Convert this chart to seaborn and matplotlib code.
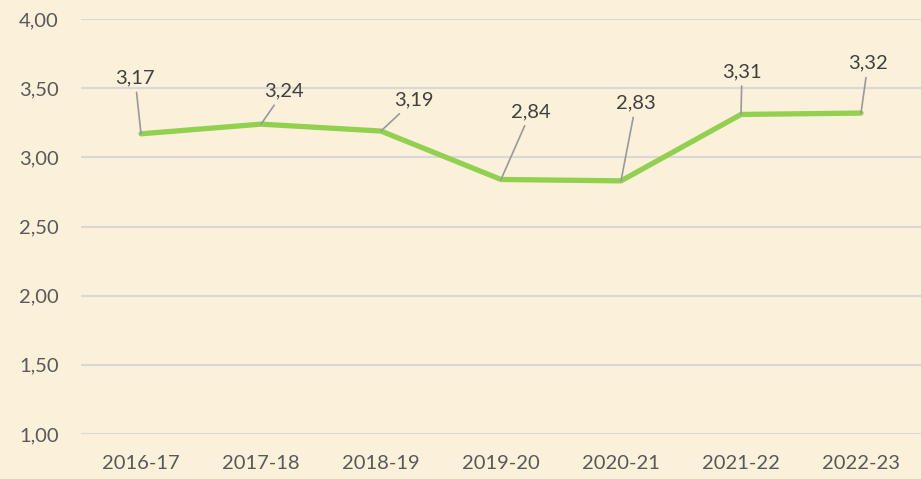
import pandas as pd
import seaborn as sns
import matplotlib.pyplot as plt

# --- data ---
seasons = ['2016-17', '2017-18', '2018-19', '2019-20', '2020-21', '2021-22', '2022-23']
values = [3.17, 3.24, 3.19, 2.84, 2.83, 3.31, 3.32]
y_ticks = [1.0, 1.5, 2.0, 2.5, 3.0, 3.5, 4.0]

# label offsets in pixels (x, y) from each point
label_offsets = [(-6, 56), (23, 33), (33, 31), (30, 68), (15, 78), (1, 43), (7, 50)]

sns.set_style('white')
plt.rcParams['font.family'] = ['Lato', 'DejaVu Sans']

bg = '#FBF1DA'
df = pd.DataFrame({'Season': seasons, 'Value': values})

fig = plt.figure(figsize=(9.21, 4.79), dpi=100)
fig.patch.set_facecolor(bg)
ax = fig.add_axes([81 / 921, 45 / 479, 840 / 921, 415 / 479])
ax.set_facecolor(bg)

sns.lineplot(data=df, x='Season', y='Value', color='#92D050', linewidth=3.8,
             ax=ax, zorder=3)

ax.set_xlim(-0.5, 6.5)
ax.set_ylim(1.0, 4.0)
ax.set_yticks(y_ticks)
ax.set_yticklabels([f'{v:.2f}'.replace('.', ',') for v in y_ticks])
ax.yaxis.grid(True, color='#D8D8D8', linewidth=1.5, zorder=0)
ax.set_axisbelow(True)
for s in ax.spines.values():
    s.set_visible(False)
ax.tick_params(axis='both', length=0, labelsize=14.5, labelcolor='#595959')
ax.tick_params(axis='x', pad=15)
ax.tick_params(axis='y', pad=16)
ax.set_xlabel('')
ax.set_ylabel('')

for i, (v, off) in enumerate(zip(values, label_offsets)):
    ax.annotate(f'{v:.2f}'.replace('.', ','), xy=(i, v), xytext=off,
                textcoords='offset pixels', ha='center', va='center',
                fontsize=14.5, color='#404040',
                arrowprops=dict(arrowstyle='-', color='#999999', lw=1.2,
                                shrinkA=2, shrinkB=0))

plt.savefig('out.png', dpi=100, facecolor=bg)
plt.close()
